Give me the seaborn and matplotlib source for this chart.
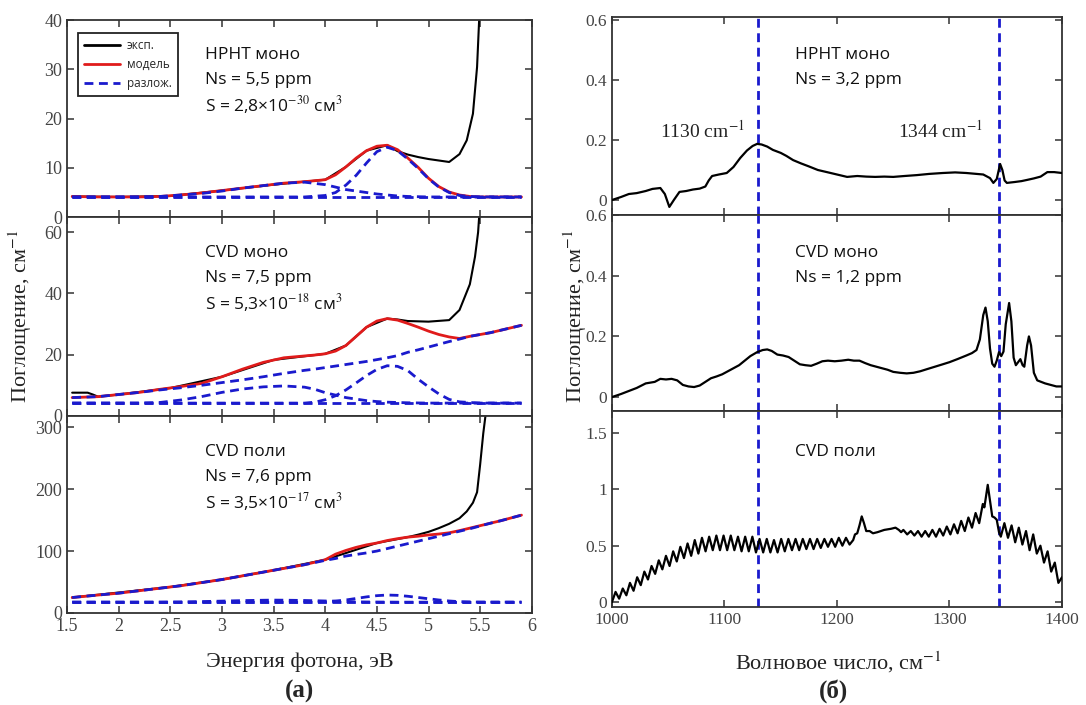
import numpy as np
import pandas as pd
import matplotlib
matplotlib.use("Agg")
import matplotlib.pyplot as plt
from matplotlib.lines import Line2D
from matplotlib.ticker import FuncFormatter
import seaborn as sns

# ---------------- DATA: (a) optical absorption vs photon energy ----------------
# HPHT mono
hpht_x = [1.55, 1.8, 2.0, 2.2, 2.4, 2.6, 2.8, 3.0, 3.2, 3.4, 3.6, 3.8, 4.0, 4.1, 4.2, 4.3, 4.4, 4.5,
          4.6, 4.7, 4.8, 4.9, 5.0, 5.1, 5.2, 5.3, 5.4, 5.5, 5.6, 5.7, 5.8, 5.9]
hpht_model = [4.2, 4.1, 4.1, 4.1, 4.2, 4.5, 4.9, 5.4, 5.9, 6.4, 6.9, 7.2, 7.6, 8.6, 10.2, 12.0, 13.5, 14.4,
              14.6, 13.7, 12.0, 10.1, 7.9, 6.2, 5.1, 4.5, 4.2, 4.1, 4.1, 4.1, 4.1, 4.1]
hpht_c1 = [4.1, 4.1, 4.1, 4.1, 4.2, 4.5, 4.8, 5.3, 5.9, 6.4, 6.9, 7.1, 6.6, 6.1, 5.6, 5.3, 5.0, 4.7,
           4.5, 4.3, 4.2, 4.15, 4.1, 4.1, 4.1, 4.1, 4.1, 4.1, 4.1, 4.1, 4.1, 4.1]
hpht_c2 = [4.1, 4.1, 4.1, 4.1, 4.1, 4.1, 4.1, 4.1, 4.1, 4.1, 4.1, 4.1, 4.4, 5.0, 6.5, 8.5, 11.0, 13.3,
           14.2, 13.5, 11.8, 9.9, 7.8, 6.1, 5.0, 4.4, 4.2, 4.1, 4.1, 4.1, 4.1, 4.1]
hpht_base = [4.1] * len(hpht_x)
hpht_exp_x = [1.55, 2.0, 2.5, 3.0, 3.5, 4.0, 4.2, 4.4, 4.6, 4.7, 4.8, 4.9, 5.0, 5.1, 5.2, 5.3, 5.37, 5.43,
              5.47, 5.49, 5.52]
hpht_exp = [4.2, 4.1, 4.3, 5.4, 6.6, 7.6, 10.2, 13.5, 14.6, 13.4, 12.7, 12.2, 11.8, 11.5, 11.2, 12.8, 15.6,
            21.0, 30.5, 40.0, 60.0]

# CVD mono
cvdm_x = [1.55, 1.8, 2.0, 2.2, 2.4, 2.6, 2.8, 3.0, 3.2, 3.4, 3.6, 3.8, 3.9, 4.0, 4.1, 4.2, 4.3, 4.4, 4.5,
          4.6, 4.7, 4.8, 4.9, 5.0, 5.1, 5.2, 5.3, 5.4, 5.5, 5.6, 5.7, 5.8, 5.9]
cvdm_model = [6.0, 6.3, 7.0, 7.7, 8.7, 9.6, 10.6, 12.8, 15.3, 17.5, 19.0, 19.6, 19.9, 20.3, 21.2, 23.0,
              26.0, 29.0, 31.0, 31.8, 31.3, 30.2, 29.0, 27.7, 26.6, 25.8, 25.3, 26.0, 26.6, 27.2, 28.0,
              28.8, 29.6]
cvdm_bg = [6.0, 6.3, 7.0, 7.7, 8.5, 9.2, 10.0, 10.9, 11.8, 12.8, 13.9, 14.9, 15.3, 15.8, 16.3, 16.8,
           17.3, 17.8, 18.4, 19.0, 19.7, 20.8, 21.6, 22.5, 23.4, 24.3, 25.1, 26.0, 26.6, 27.2, 28.0,
           28.8, 29.6]
cvdm_c1 = [4.2, 4.2, 4.2, 4.2, 4.4, 5.2, 6.3, 7.7, 8.8, 9.5, 9.8, 9.4, 8.7, 7.6, 6.8, 6.0, 5.5, 5.0, 4.7,
           4.5, 4.4, 4.3, 4.25, 4.2, 4.2, 4.2, 4.2, 4.2, 4.2, 4.2, 4.2, 4.2, 4.2]
cvdm_c2 = [4.2, 4.2, 4.2, 4.2, 4.2, 4.2, 4.2, 4.2, 4.2, 4.2, 4.2, 4.2, 4.5, 5.3, 6.6, 8.5, 10.8, 13.2,
           15.2, 16.4, 16.2, 14.8, 12.0, 9.5, 7.2, 5.4, 4.6, 4.4, 4.2, 4.2, 4.2, 4.2, 4.2]
cvdm_base = [4.2] * len(cvdm_x)
cvdm_exp_x = [1.55, 1.7, 1.75, 1.8, 2.0, 2.5, 3.0, 3.5, 4.0, 4.2, 4.4, 4.6, 4.7, 4.8, 5.0, 5.2, 5.3, 5.4,
              5.45, 5.48, 5.5]
cvdm_exp = [7.6, 7.6, 7.0, 6.3, 7.0, 9.1, 12.8, 18.3, 20.3, 23.0, 29.0, 31.8, 31.5, 31.0, 30.8, 31.3,
            34.6, 43.0, 52.0, 60.0, 70.0]

# CVD poly
cvdp_x = [1.55, 1.8, 2.0, 2.2, 2.4, 2.6, 2.8, 3.0, 3.2, 3.4, 3.5, 3.6, 3.8, 4.0, 4.1, 4.2, 4.3, 4.4, 4.5,
          4.6, 4.7, 4.8, 4.9, 5.0, 5.1, 5.2, 5.3, 5.4, 5.5, 5.6, 5.7, 5.8, 5.9]
cvdp_model = [25, 29, 32, 36, 40, 44, 49, 54, 60, 66, 69, 72, 78, 86, 95, 101, 106, 110, 113, 117, 120,
              122.5, 124, 126, 127.5, 129.5, 133, 137, 141, 145, 149, 153.5, 158]
cvdp_bg = [25, 29, 32, 36, 40, 44, 49, 54, 60, 66, 69, 72, 78, 85, 88, 92, 94.5, 97, 100, 104, 108, 112,
           116, 120, 124, 128, 132, 136, 140.5, 145, 149, 153.5, 158]
cvdp_c1 = [17.5, 17.5, 17.5, 17.5, 17.5, 17.8, 18.4, 19.2, 20.0, 20.6, 20.8, 20.7, 20.2, 19.4, 18.9,
           18.4, 18.0, 17.8, 17.7, 17.6, 17.5, 17.5, 17.5, 17.5, 17.5, 17.5, 17.5, 17.5, 17.5, 17.5, 17.5,
           17.5, 17.5]
cvdp_c2 = [17.5, 17.5, 17.5, 17.5, 17.5, 17.5, 17.5, 17.5, 17.5, 17.5, 17.5, 17.5, 17.6, 18.2, 19.3,
           21.0, 23.5, 26.0, 28.0, 29.0, 28.5, 27.0, 25.0, 23.0, 21.0, 19.4, 18.3, 17.8, 17.5, 17.5, 17.5,
           17.5, 17.5]
cvdp_base = [17.5] * len(cvdp_x)
cvdp_exp_x = [1.55, 2.5, 3.0, 3.5, 4.0, 4.5, 4.8, 4.9, 5.0, 5.1, 5.2, 5.3, 5.37, 5.43, 5.47, 5.5, 5.53,
              5.56]
cvdp_exp = [25, 42, 54, 69, 86, 113, 122.5, 126.5, 131, 137, 144, 153, 164, 178, 195, 240, 290, 330]

# ---------------- DATA: (б) IR absorption vs wavenumber ----------------
ir1_x = [1000, 1008, 1015, 1022, 1030, 1036, 1043, 1047, 1051, 1055, 1060, 1066, 1072, 1078, 1083, 1086,
         1089, 1095, 1102, 1108, 1114, 1120, 1125, 1129, 1133, 1138, 1143, 1150, 1155, 1161, 1168, 1175,
         1183, 1191, 1200, 1209, 1218, 1226, 1234, 1242, 1250, 1260, 1271, 1282, 1294, 1305, 1315, 1324,
         1330, 1336, 1339, 1342, 1345, 1347, 1349, 1351, 1358, 1364, 1369, 1375, 1381, 1387, 1393, 1400]
ir1_y = [0.0, 0.01, 0.02, 0.023, 0.03, 0.037, 0.04, 0.02, -0.023, 0.0, 0.027, 0.03, 0.035, 0.038, 0.045,
         0.065, 0.08, 0.085, 0.09, 0.11, 0.14, 0.165, 0.18, 0.187, 0.185, 0.178, 0.167, 0.157, 0.147,
         0.133, 0.122, 0.112, 0.1, 0.093, 0.085, 0.077, 0.08, 0.078, 0.077, 0.078, 0.077, 0.08, 0.083,
         0.087, 0.09, 0.092, 0.09, 0.087, 0.085, 0.073, 0.057, 0.07, 0.12, 0.1, 0.065, 0.057, 0.06,
         0.063, 0.067, 0.072, 0.078, 0.093, 0.093, 0.09]

ir2_x = [1000, 1008, 1015, 1022, 1030, 1038, 1043, 1048, 1053, 1058, 1063, 1068, 1073, 1078, 1083, 1088,
         1093, 1098, 1103, 1108, 1113, 1118, 1123, 1129, 1134, 1138, 1142, 1147, 1152, 1157, 1162, 1167,
         1172, 1177, 1182, 1187, 1192, 1198, 1204, 1210, 1215, 1220, 1225, 1230, 1235, 1240, 1245, 1250,
         1256, 1262, 1268, 1274, 1280, 1287, 1294, 1300, 1307, 1315, 1320, 1324, 1327, 1330, 1332, 1334,
         1336, 1338, 1340, 1342, 1344, 1346, 1348, 1350, 1353, 1355, 1357, 1359, 1361, 1363, 1365,
         1366.5, 1369, 1370.6, 1372.5, 1375, 1378, 1385, 1390, 1395, 1400]
ir2_y = [0.0, 0.01, 0.02, 0.03, 0.045, 0.05, 0.06, 0.058, 0.06, 0.055, 0.04, 0.035, 0.033, 0.038, 0.05,
         0.062, 0.068, 0.075, 0.085, 0.095, 0.105, 0.12, 0.135, 0.148, 0.155, 0.157, 0.152, 0.14, 0.137,
         0.132, 0.12, 0.108, 0.105, 0.103, 0.11, 0.118, 0.12, 0.118, 0.12, 0.123, 0.12, 0.12, 0.112,
         0.105, 0.1, 0.095, 0.09, 0.083, 0.08, 0.078, 0.08, 0.085, 0.092, 0.1, 0.108, 0.115, 0.125,
         0.137, 0.145, 0.155, 0.19, 0.27, 0.295, 0.25, 0.16, 0.11, 0.1, 0.12, 0.148, 0.135, 0.15, 0.24,
         0.31, 0.25, 0.13, 0.105, 0.115, 0.125, 0.105, 0.1, 0.17, 0.2, 0.17, 0.08, 0.055, 0.045, 0.04,
         0.035, 0.035]

ir3_x = [1000.0, 1003.2, 1006.4, 1009.6, 1012.8, 1016.0, 1019.2, 1022.4, 1025.6, 1028.8, 1032.0, 1035.2,
         1038.4, 1041.6, 1044.8, 1048.0, 1051.2, 1054.4, 1057.6, 1060.8, 1064.0, 1067.2, 1070.4, 1073.6,
         1076.8, 1080.0, 1083.2, 1086.4, 1089.6, 1092.8, 1096.0, 1099.2, 1102.4, 1105.6, 1108.8, 1112.0,
         1115.2, 1118.4, 1121.6, 1124.8, 1128.0, 1131.2, 1134.4, 1137.6, 1140.8, 1144.0, 1147.2, 1150.4,
         1153.6, 1156.8, 1160.0, 1163.2, 1166.4, 1169.6, 1172.8, 1176.0, 1179.2, 1182.4, 1185.6, 1188.8,
         1192.0, 1195.2, 1198.4, 1201.6, 1204.8, 1208.0, 1211.2, 1214.4, 1216, 1218, 1220, 1222, 1224,
         1226, 1229, 1232, 1236, 1242, 1248, 1252, 1255, 1257, 1259, 1262.4, 1265.6, 1268.8, 1272.0,
         1275.2, 1278.4, 1281.6, 1284.8, 1288.0, 1291.2, 1294.4, 1297.6, 1300.8, 1304.0, 1307.2, 1310.4,
         1313.6, 1316.8, 1320.0, 1323.2, 1326.4, 1329.6, 1331, 1334, 1336, 1338, 1340, 1342, 1344,
         1345.6, 1348.8, 1352.0, 1355.2, 1358.4, 1361.6, 1364.8, 1368.0, 1371.2, 1374.4, 1377.6, 1380.8,
         1384.0, 1387.2, 1390.4, 1393.6, 1396.8, 1400.0]
ir3_y = [0.0, 0.09, 0.03, 0.12, 0.06, 0.17, 0.10, 0.22, 0.15, 0.27, 0.20, 0.32, 0.25, 0.37, 0.29, 0.41,
         0.32, 0.45, 0.36, 0.49, 0.39, 0.52, 0.41, 0.55, 0.43, 0.57, 0.45, 0.58, 0.46, 0.59, 0.46, 0.59,
         0.46, 0.59, 0.46, 0.58, 0.45, 0.58, 0.45, 0.58, 0.44, 0.56, 0.44, 0.56, 0.44, 0.55, 0.44, 0.56,
         0.45, 0.56, 0.46, 0.56, 0.46, 0.56, 0.47, 0.56, 0.47, 0.56, 0.48, 0.56, 0.49, 0.56, 0.49, 0.57,
         0.50, 0.57, 0.51, 0.55, 0.60, 0.61, 0.68, 0.76, 0.70, 0.63, 0.63, 0.61, 0.62, 0.64, 0.65, 0.66,
         0.64, 0.62, 0.64, 0.60, 0.63, 0.59, 0.63, 0.58, 0.63, 0.58, 0.64, 0.58, 0.65, 0.59, 0.67, 0.60,
         0.69, 0.61, 0.72, 0.63, 0.75, 0.66, 0.79, 0.70, 0.87, 0.84, 1.04, 0.90, 0.76, 0.75, 0.73, 0.62,
         0.58, 0.70, 0.57, 0.68, 0.53, 0.66, 0.51, 0.63, 0.46, 0.60, 0.43, 0.50, 0.35, 0.45, 0.27, 0.35,
         0.17, 0.22]

peak_lines = [1130, 1344]

# ---------------- STYLE ----------------
sns.set_theme(style="ticks")
plt.rcParams["font.family"] = ["Liberation Serif", "DejaVu Serif"]
plt.rcParams["mathtext.fontset"] = "stix"
plt.rcParams["axes.linewidth"] = 1.3
plt.rcParams["axes.edgecolor"] = "#333333"

BLACK = "#000000"
RED = "#e01b1b"
BLUE = "#1a1acd"
SANS = ["Open Sans", "DejaVu Sans"]

fig = plt.figure(figsize=(10.86, 7.05), dpi=100)

left_pos = [(0.0617, 0.692, 0.428, 0.2794),
            (0.0617, 0.410, 0.428, 0.2823),
            (0.0617, 0.1305, 0.428, 0.2794)]
right_pos = [(0.5635, 0.695, 0.4144, 0.281),
             (0.5635, 0.417, 0.4144, 0.278),
             (0.5635, 0.139, 0.4144, 0.278)]


def style_axis(ax, fs):
    ax.tick_params(direction="in", top=True, right=True, length=5, width=1.1,
                   labelsize=fs, colors="#333333", labelcolor="#444444")
    for s in ax.spines.values():
        s.set_visible(True)
        s.set_color("#333333")
    ax.set_xlabel("")
    ax.set_ylabel("")


def dashed(ax, x, y, lw=2.0):
    sns.lineplot(x=x, y=y, ax=ax, color=BLUE, lw=lw, sort=False, estimator=None)
    ax.lines[-1].set_dashes((3.2, 2.0))


left_data = [
    (hpht_x, hpht_model, [hpht_base, hpht_c1, hpht_c2], hpht_exp_x, hpht_exp, (0, 40), [0, 10, 20, 30, 40],
     ["HPHT моно", "Ns = 5,5 ppm", "S = 2,8×10$^{-30}$ см$^3$"], [0.822, 0.695, 0.569]),
    (cvdm_x, cvdm_model, [cvdm_base, cvdm_bg, cvdm_c1, cvdm_c2], cvdm_exp_x, cvdm_exp, (0, 65),
     [0, 20, 40, 60], ["CVD моно", "Ns = 7,5 ppm", "S = 5,3×10$^{-18}$ см$^3$"], [0.819, 0.693, 0.568]),
    (cvdp_x, cvdp_model, [cvdp_base, cvdp_bg, cvdp_c1, cvdp_c2], cvdp_exp_x, cvdp_exp, (0, 318),
     [0, 100, 200, 300], ["CVD поли", "Ns = 7,6 ppm", "S = 3,5×10$^{-17}$ см$^3$"], [0.817, 0.69, 0.563]),
]

left_axes = []
for i, (pos, d) in enumerate(zip(left_pos, left_data)):
    x, model, comps, ex, ey, ylim, yt, texts, ty = d
    ax = fig.add_axes(pos)
    left_axes.append(ax)
    sns.lineplot(x=ex, y=ey, ax=ax, color=BLACK, lw=1.5, sort=False, estimator=None)
    sns.lineplot(x=x, y=model, ax=ax, color=RED, lw=2.0, sort=False, estimator=None)
    for c in comps:
        dashed(ax, x, c)
    ax.set_xlim(1.5, 6.0)
    ax.set_ylim(*ylim)
    ax.set_yticks(yt)
    ax.set_xticks([1.5, 2, 2.5, 3, 3.5, 4, 4.5, 5, 5.5, 6])
    ax.xaxis.set_major_formatter(FuncFormatter(lambda v, p: f"{v:g}"))
    style_axis(ax, 13)
    if i < 2:
        ax.tick_params(labelbottom=False)
    for t, yy in zip(texts, ty):
        ax.text(0.297, yy, t, transform=ax.transAxes, fontsize=12.5, family=SANS,
                va="center", ha="left", color="#111111")

# legend on top-left panel
handles = [Line2D([], [], color=BLACK, lw=2.0),
           Line2D([], [], color=RED, lw=2.0),
           Line2D([], [], color=BLUE, lw=2.0, dashes=(3.2, 2.0))]
leg = left_axes[0].legend(handles, ["эксп.", "модель", "разлож."], loc="upper left",
                          bbox_to_anchor=(0.012, 0.965), prop={"family": SANS, "size": 8.5},
                          frameon=True, fancybox=False, edgecolor="#222222", framealpha=1,
                          handlelength=3.0, labelspacing=0.5, borderpad=0.5, handletextpad=0.6)
leg.get_frame().set_linewidth(1.3)

right_data = [
    (ir1_x, ir1_y, (-0.05, 0.61), [0, 0.2, 0.4, 0.6], ["HPHT моно", "Ns = 3,2 ppm"], [0.808, 0.682]),
    (ir2_x, ir2_y, (-0.046, 0.60), [0, 0.2, 0.4, 0.6], ["CVD моно", "Ns = 1,2 ppm"], [0.806, 0.679]),
    (ir3_x, ir3_y, (-0.044, 1.695), [0, 0.5, 1, 1.5], ["CVD поли"], [0.79]),
]
right_axes = []
for i, (pos, d) in enumerate(zip(right_pos, right_data)):
    x, y, ylim, yt, texts, ty = d
    ax = fig.add_axes(pos)
    right_axes.append(ax)
    for p in peak_lines:
        ax.axvline(p, color=BLUE, lw=2.0, dashes=(3.2, 2.0), zorder=1)
    sns.lineplot(x=x, y=y, ax=ax, color=BLACK, lw=1.6, sort=False, estimator=None, zorder=3)
    ax.set_xlim(1000, 1400)
    ax.set_ylim(*ylim)
    ax.set_yticks(yt)
    ax.set_xticks([1000, 1100, 1200, 1300, 1400])
    ax.yaxis.set_major_formatter(FuncFormatter(lambda v, p: f"{v:g}"))
    style_axis(ax, 12.5)
    if i < 2:
        ax.tick_params(labelbottom=False)
    for t, yy in zip(texts, ty):
        ax.text(0.407, yy, t, transform=ax.transAxes, fontsize=12.5, family=SANS,
                va="center", ha="left", color="#111111")

right_axes[0].text(1080, 0.23, "1130 cm$^{-1}$", fontsize=14, ha="center", va="center", color="#222222")
right_axes[0].text(1292, 0.23, "1344 cm$^{-1}$", fontsize=14, ha="center", va="center", color="#222222")

# axis titles
fig.text(20 / 1086, 1 - 316 / 705, "Поглощение, см$^{-1}$", rotation=90, fontsize=16,
         ha="center", va="center", color="#222222")
fig.text(575 / 1086, 1 - 316 / 705, "Поглощение, см$^{-1}$", rotation=90, fontsize=16,
         ha="center", va="center", color="#222222")
fig.text(300 / 1086, 1 - 662 / 705, "Энергия фотона, эВ", fontsize=16, ha="center", va="center",
         color="#222222")
fig.text(838 / 1086, 1 - 662 / 705, "Волновое число, см$^{-1}$", fontsize=16, ha="center", va="center",
         color="#222222")
fig.text(300 / 1086, 1 - 691 / 705, "(а)", fontsize=18, fontweight="bold", ha="center", va="center")
fig.text(833 / 1086, 1 - 691 / 705, "(б)", fontsize=18, fontweight="bold", ha="center", va="center")

fig.savefig("out.png", dpi=100)
